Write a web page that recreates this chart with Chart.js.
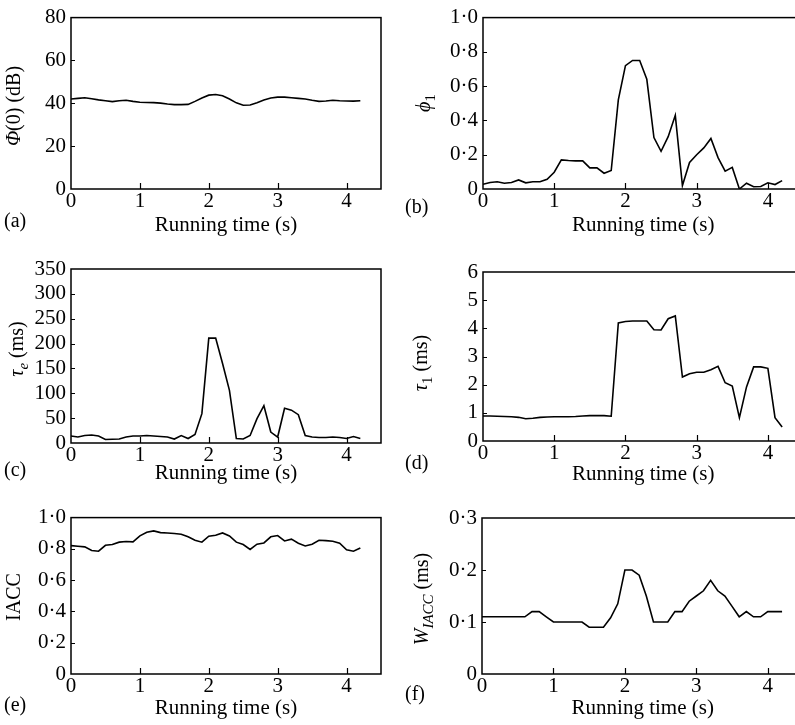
<!DOCTYPE html>
<html>
<head>
<meta charset="utf-8">
<script src="https://cdn.jsdelivr.net/npm/chart.js@4.4.0/dist/chart.umd.min.js"></script>
<style>
  html, body { margin: 0; padding: 0; background: #fff; width: 795px; height: 725px; overflow: hidden; }
  #page { position: relative; width: 795px; height: 725px; overflow: hidden; }
  #page canvas { position: absolute; }
</style>
</head>
<body>
<div id="page">
  <canvas id="chart-a"></canvas>
  <canvas id="chart-b"></canvas>
  <canvas id="chart-c"></canvas>
  <canvas id="chart-d"></canvas>
  <canvas id="chart-e"></canvas>
  <canvas id="chart-f"></canvas>
</div>
<script>
// running time (s), one sample every 0.1 s
var times = [0, 0.1, 0.2, 0.3, 0.4, 0.5, 0.6, 0.7, 0.8, 0.9,
  1.0, 1.1, 1.2, 1.3, 1.4, 1.5, 1.6, 1.7, 1.8, 1.9,
  2.0, 2.1, 2.2, 2.3, 2.4, 2.5, 2.6, 2.7, 2.8, 2.9,
  3.0, 3.1, 3.2, 3.3, 3.4, 3.5, 3.6, 3.7, 3.8, 3.9,
  4.0, 4.1, 4.2];

// (a) Phi(0) in dB
var phi0 = [42.0, 42.3, 42.6, 42.1, 41.6, 41.2, 40.8, 41.2, 41.4, 40.9,
  40.5, 40.4, 40.3, 40.1, 39.7, 39.4, 39.4, 39.5, 40.9, 42.5,
  43.8, 44.1, 43.5, 42.0, 40.2, 39.1, 39.2, 40.3, 41.5, 42.5,
  42.9, 42.9, 42.6, 42.3, 42.0, 41.4, 40.9, 41.1, 41.4, 41.2,
  41.1, 41.0, 41.2];

// (b) phi1
var phi1 = [0.028, 0.038, 0.042, 0.034, 0.038, 0.053, 0.036, 0.042, 0.042, 0.057,
  0.098, 0.17, 0.166, 0.164, 0.164, 0.123, 0.123, 0.092, 0.108, 0.52,
  0.72, 0.75, 0.75, 0.64, 0.30, 0.22, 0.305, 0.43, 0.02, 0.155,
  0.20, 0.24, 0.295, 0.183, 0.104, 0.126, 0.0, 0.034, 0.013, 0.015,
  0.036, 0.026, 0.049];

// (c) tau_e in ms
var tauE = [14, 12, 15, 16, 14, 7, 7.5, 8, 12, 14,
  14, 15, 14, 13, 12, 8, 15, 9, 17, 59,
  211, 211, 160, 106, 9, 8, 15, 49, 75, 22,
  12, 70, 66, 57, 15, 12, 11, 11, 12, 11,
  9, 13, 9];

// (d) tau1 in ms
var tau1 = [0.89, 0.89, 0.88, 0.87, 0.86, 0.84, 0.79, 0.81, 0.84, 0.85,
  0.86, 0.86, 0.86, 0.87, 0.89, 0.90, 0.90, 0.90, 0.88, 4.19,
  4.24, 4.26, 4.26, 4.26, 3.95, 3.94, 4.34, 4.44, 2.27, 2.39,
  2.44, 2.44, 2.53, 2.65, 2.07, 1.95, 0.83, 1.92, 2.63, 2.63,
  2.58, 0.83, 0.50];

// (e) IACC
var iacc = [0.821, 0.817, 0.813, 0.79, 0.785, 0.823, 0.828, 0.843, 0.847, 0.845,
  0.883, 0.906, 0.915, 0.904, 0.902, 0.898, 0.894, 0.877, 0.855, 0.843,
  0.881, 0.887, 0.902, 0.883, 0.843, 0.828, 0.796, 0.830, 0.838, 0.877,
  0.885, 0.851, 0.862, 0.836, 0.819, 0.830, 0.855, 0.853, 0.849, 0.836,
  0.794, 0.785, 0.806];

// (f) W_IACC in ms
var wIacc = [0.11, 0.11, 0.11, 0.11, 0.11, 0.11, 0.11, 0.12, 0.12, 0.11,
  0.10, 0.10, 0.10, 0.10, 0.10, 0.09, 0.09, 0.09, 0.108, 0.135,
  0.20, 0.20, 0.19, 0.15, 0.10, 0.10, 0.10, 0.12, 0.12, 0.14,
  0.15, 0.16, 0.18, 0.16, 0.15, 0.13, 0.11, 0.12, 0.11, 0.11,
  0.12, 0.12, 0.12];

// tick values and labels
var xTicks = [0, 1, 2, 3, 4];
var xTickLabels = ['0', '1', '2', '3', '4'];
var phi0Ticks = [0, 20, 40, 60, 80];
var phi0TickLabels = ['0', '20', '40', '60', '80'];
var phi1Ticks = [0, 0.2, 0.4, 0.6, 0.8, 1.0];
var phi1TickLabels = ['0', '0·2', '0·4', '0·6', '0·8', '1·0'];
var tauETicks = [0, 50, 100, 150, 200, 250, 300, 350];
var tauETickLabels = ['0', '50', '100', '150', '200', '250', '300', '350'];
var tau1Ticks = [0, 1, 2, 3, 4, 5, 6];
var tau1TickLabels = ['0', '1', '2', '3', '4', '5', '6'];
var iaccTicks = [0, 0.2, 0.4, 0.6, 0.8, 1.0];
var iaccTickLabels = ['0', '0·2', '0·4', '0·6', '0·8', '1·0'];
var wIaccTicks = [0, 0.1, 0.2, 0.3];
var wIaccTickLabels = ['0', '0·1', '0·2', '0·3'];

var FONT = "'Liberation Serif', 'Times New Roman', serif";
var FONT_SIZE = 21;
Chart.defaults.font.family = FONT;
Chart.defaults.font.size = FONT_SIZE;
Chart.defaults.color = '#000';

function segFont(s) {
  var size = s.sub ? 15 : 20;
  return (s.italic ? 'italic ' : '') + size + 'px ' + FONT;
}

//draws the rotated y title, which mixes italic and subscript pieces
function drawRichTitle(ctx, segs, cx, cy) {
  ctx.save();
  ctx.translate(cx, cy);
  ctx.rotate(-Math.PI / 2);
  ctx.textBaseline = 'middle';
  ctx.textAlign = 'left';
  ctx.fillStyle = '#000';
  var widths = [];
  var total = 0;
  for (var i = 0; i < segs.length; i++) {
    ctx.font = segFont(segs[i]);
    widths[i] = ctx.measureText(segs[i].t).width;
    total += widths[i];
  }
  var x = -total / 2;
  for (var j = 0; j < segs.length; j++) {
    ctx.font = segFont(segs[j]);
    ctx.fillText(segs[j].t, x, segs[j].sub ? 6 : 0);
    x += widths[j];
  }
  ctx.restore();
}

function makePanel(p) {
  var canvas = document.getElementById(p.id);
  // x axis box reaches down to the middle of its title line
  var xHeight = p.titleGap + FONT_SIZE * 0.6;
  var ch = Math.ceil(p.area.b + xHeight + 2);
  canvas.width = p.cw;
  canvas.height = ch;
  canvas.style.left = p.cx + 'px';
  canvas.style.top = p.cy + 'px';
  canvas.style.width = p.cw + 'px';
  canvas.style.height = ch + 'px';

  var points = [];
  for (var i = 0; i < times.length; i++) {
    points.push({ x: times[i], y: p.values[i] });
  }

  // box, inner ticks, y title and the panel letter
  var framePlugin = {
    id: 'frame' + p.id,
    afterDraw: function(chart) {
      var ctx = chart.ctx;
      var a = chart.chartArea;
      var xs = chart.scales.x;
      var ys = chart.scales.y;
      ctx.save();
      ctx.strokeStyle = '#000';
      ctx.lineWidth = 1.5;
      ctx.strokeRect(a.left, a.top, a.right - a.left, a.bottom - a.top);
      ctx.lineWidth = 1.2;
      ctx.beginPath();
      xs.ticks.forEach(function(t) {
        if (t.value > 0) {
          var px = Math.round(xs.getPixelForValue(t.value)) + 0.5;
          ctx.moveTo(px, a.bottom);
          ctx.lineTo(px, a.bottom - 6);
        }
      });
      ys.ticks.forEach(function(t) {
        if (t.value > ys.min && t.value < ys.max) {
          var py = Math.round(ys.getPixelForValue(t.value)) + 0.5;
          ctx.moveTo(a.left, py);
          ctx.lineTo(a.left + 4, py);
        }
      });
      ctx.stroke();
      ctx.restore();

      drawRichTitle(ctx, p.title, p.titleX, p.titleY);

      ctx.save();
      ctx.fillStyle = '#000';
      ctx.font = '20px ' + FONT;
      ctx.textBaseline = 'middle';
      ctx.textAlign = 'left';
      ctx.fillText(p.label, p.labelX, p.labelY);
      ctx.restore();
    }
  };

  return new Chart(canvas, {
    type: 'line',
    data: {
      datasets: [{
        data: points,
        borderColor: '#000',
        borderWidth: 1.6,
        pointRadius: 0,
        tension: 0,
        fill: false
      }]
    },
    options: {
      responsive: false,
      animation: false,
      devicePixelRatio: 1,
      layout: {
        padding: { left: 0, top: p.area.t, right: p.cw - p.area.r, bottom: ch - p.area.b - xHeight }
      },
      plugins: { legend: { display: false }, tooltip: { enabled: false } },
      scales: {
        x: {
          type: 'linear',
          min: 0,
          max: 4.5,
          afterBuildTicks: function(s) {
            s.ticks = xTicks.map(function(v) { return { value: v }; });
          },
          afterFit: function(s) { s.height = xHeight; },
          grid: { display: false, drawTicks: false },
          border: { display: false },
          ticks: {
            padding: 0,
            maxRotation: 0,
            autoSkip: false,
            callback: function(v, i) { return xTickLabels[i]; }
          },
          title: { display: true, text: 'Running time (s)', padding: 0, font: { size: FONT_SIZE } }
        },
        y: {
          type: 'linear',
          min: p.yTicks[0],
          max: p.yTicks[p.yTicks.length - 1],
          afterBuildTicks: function(s) {
            s.ticks = p.yTicks.map(function(v) { return { value: v }; });
          },
          afterFit: function(s) { s.width = p.area.l; },
          grid: { display: false, drawTicks: false },
          border: { display: false },
          ticks: {
            padding: 5,
            autoSkip: false,
            callback: function(v, i) { return p.yLabels[i]; }
          }
        }
      }
    },
    plugins: [framePlugin]
  });
}

var panels = [
  { id: 'chart-a', cx: 0, cy: 0, cw: 400, area: { l: 71, t: 15, r: 381, b: 189 }, titleGap: 36,
    values: phi0, yTicks: phi0Ticks, yLabels: phi0TickLabels,
    title: [{ t: 'Φ', italic: true }, { t: '(0) (dB)' }], titleX: 15, titleY: 106,
    label: '(a)', labelX: 4, labelY: 222 },
  { id: 'chart-b', cx: 400, cy: 0, cw: 420, area: { l: 83, t: 15, r: 403.5, b: 189 }, titleGap: 36.5,
    values: phi1, yTicks: phi1Ticks, yLabels: phi1TickLabels,
    title: [{ t: 'ϕ', italic: true }, { t: '1', sub: true }], titleX: 25, titleY: 103,
    label: '(b)', labelX: 5, labelY: 208 },
  { id: 'chart-c', cx: 0, cy: 250, cw: 400, area: { l: 71, t: 19, r: 381, b: 193 }, titleGap: 30,
    values: tauE, yTicks: tauETicks, yLabels: tauETickLabels,
    title: [{ t: 'τ', italic: true }, { t: 'e', italic: true, sub: true }, { t: ' (ms)' }], titleX: 18, titleY: 99,
    label: '(c)', labelX: 4, labelY: 221 },
  { id: 'chart-d', cx: 400, cy: 250, cw: 420, area: { l: 83, t: 22, r: 403.5, b: 191 }, titleGap: 33,
    values: tau1, yTicks: tau1Ticks, yLabels: tau1TickLabels,
    title: [{ t: 'τ', italic: true }, { t: '1', sub: true }, { t: ' (ms)' }], titleX: 22, titleY: 113,
    label: '(d)', labelX: 5, labelY: 214 },
  { id: 'chart-e', cx: 0, cy: 500, cw: 400, area: { l: 71, t: 17, r: 381, b: 174 }, titleGap: 34.5,
    values: iacc, yTicks: iaccTicks, yLabels: iaccTickLabels,
    title: [{ t: 'IACC' }], titleX: 15, titleY: 97,
    label: '(e)', labelX: 4, labelY: 206 },
  { id: 'chart-f', cx: 400, cy: 500, cw: 420, area: { l: 82, t: 18, r: 403.5, b: 174 }, titleGap: 34.5,
    values: wIacc, yTicks: wIaccTicks, yLabels: wIaccTickLabels,
    title: [{ t: 'W', italic: true }, { t: 'IACC', italic: true, sub: true }, { t: ' (ms)' }], titleX: 23, titleY: 99,
    label: '(f)', labelX: 5, labelY: 195 }
];

for (var k = 0; k < panels.length; k++) {
  makePanel(panels[k]);
}
</script>
</body>
</html>
